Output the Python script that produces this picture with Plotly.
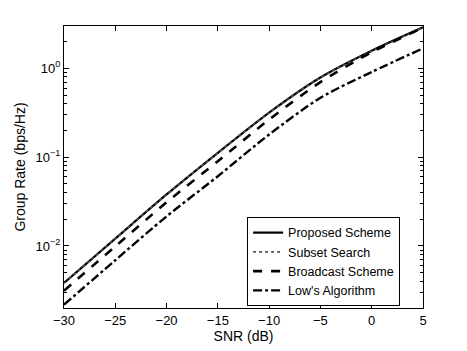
import math
import plotly.graph_objects as go

snr_db = [-30, -25, -20, -15, -10, -5, 0, 5]

proposed = [0.00384, 0.0121, 0.038, 0.112, 0.318, 0.79, 1.58, 2.90]
subset = [0.00384, 0.0121, 0.0379, 0.1115, 0.316, 0.785, 1.56, 2.88]
broadcast = [0.00313, 0.0099, 0.031, 0.090, 0.265, 0.70, 1.52, 2.86]
lows = [0.00218, 0.0069, 0.0215, 0.061, 0.180, 0.466, 0.91, 1.68]

y_ticks = [0.01, 0.1, 1]
y_ticktext = ["10<sup>\u22122</sup>", "10<sup>\u22121</sup>", "10<sup>0</sup>"]
x_ticks = [-30, -25, -20, -15, -10, -5, 0, 5]
x_ticktext = ["\u221230", "\u221225", "\u221220", "\u221215", "\u221210", "\u22125", "0", "5"]

series = [
    ("Proposed Scheme", proposed, "solid", 2.2, "black"),
    ("Subset Search", subset, "dot", 1.6, "#555555"),
    ("Broadcast Scheme", broadcast, "dash", 2.6, "black"),
    ("Low's Algorithm", lows, "dashdot", 2.4, "black"),
]

fig = go.Figure()
for name, vals, dash, w, col in series:
    fig.add_trace(go.Scatter(
        x=snr_db, y=vals, name=name, mode="lines",
        line=dict(color=col, dash=dash, width=w, shape="spline", smoothing=0.8),
    ))

axis_common = dict(
    showline=True, linecolor="black", linewidth=1, mirror="ticks",
    ticks="inside", ticklen=5, tickcolor="black", showgrid=False, zeroline=False,
    tickfont=dict(size=13, color="black"),
)

fig.update_xaxes(
    range=[-30, 5], tickmode="array", tickvals=x_ticks, ticktext=x_ticktext,
    title=dict(text="SNR (dB)", font=dict(size=14, color="black"), standoff=2),
    **axis_common,
)
fig.update_yaxes(
    type="log", range=[math.log10(0.002), math.log10(3)],
    tickmode="array", tickvals=y_ticks, ticktext=y_ticktext,
    minor=dict(ticks="inside", ticklen=3, tickcolor="black", showgrid=False,
               tickvals=[k * 10 ** e for e in (-3, -2, -1, 0) for k in range(2, 10)]),
    title=dict(text="Group Rate (bps/Hz)", font=dict(size=14, color="black"), standoff=6),
    **axis_common,
)

# page body has an 8px margin, so the figure is a little smaller than the window
fig.update_layout(
    width=459, height=343,
    margin=dict(l=52, r=44, t=18, b=32),
    paper_bgcolor="white", plot_bgcolor="white",
    font=dict(family="Liberation Sans, Arial, sans-serif", color="black", size=13),
    legend=dict(
        x=0.51, y=0.165, xanchor="left", yanchor="middle",
        bgcolor="white", bordercolor="black", borderwidth=1,
        font=dict(size=12.5), tracegroupgap=0,
    ),
    showlegend=True,
)

fig.write_html("out.html")
